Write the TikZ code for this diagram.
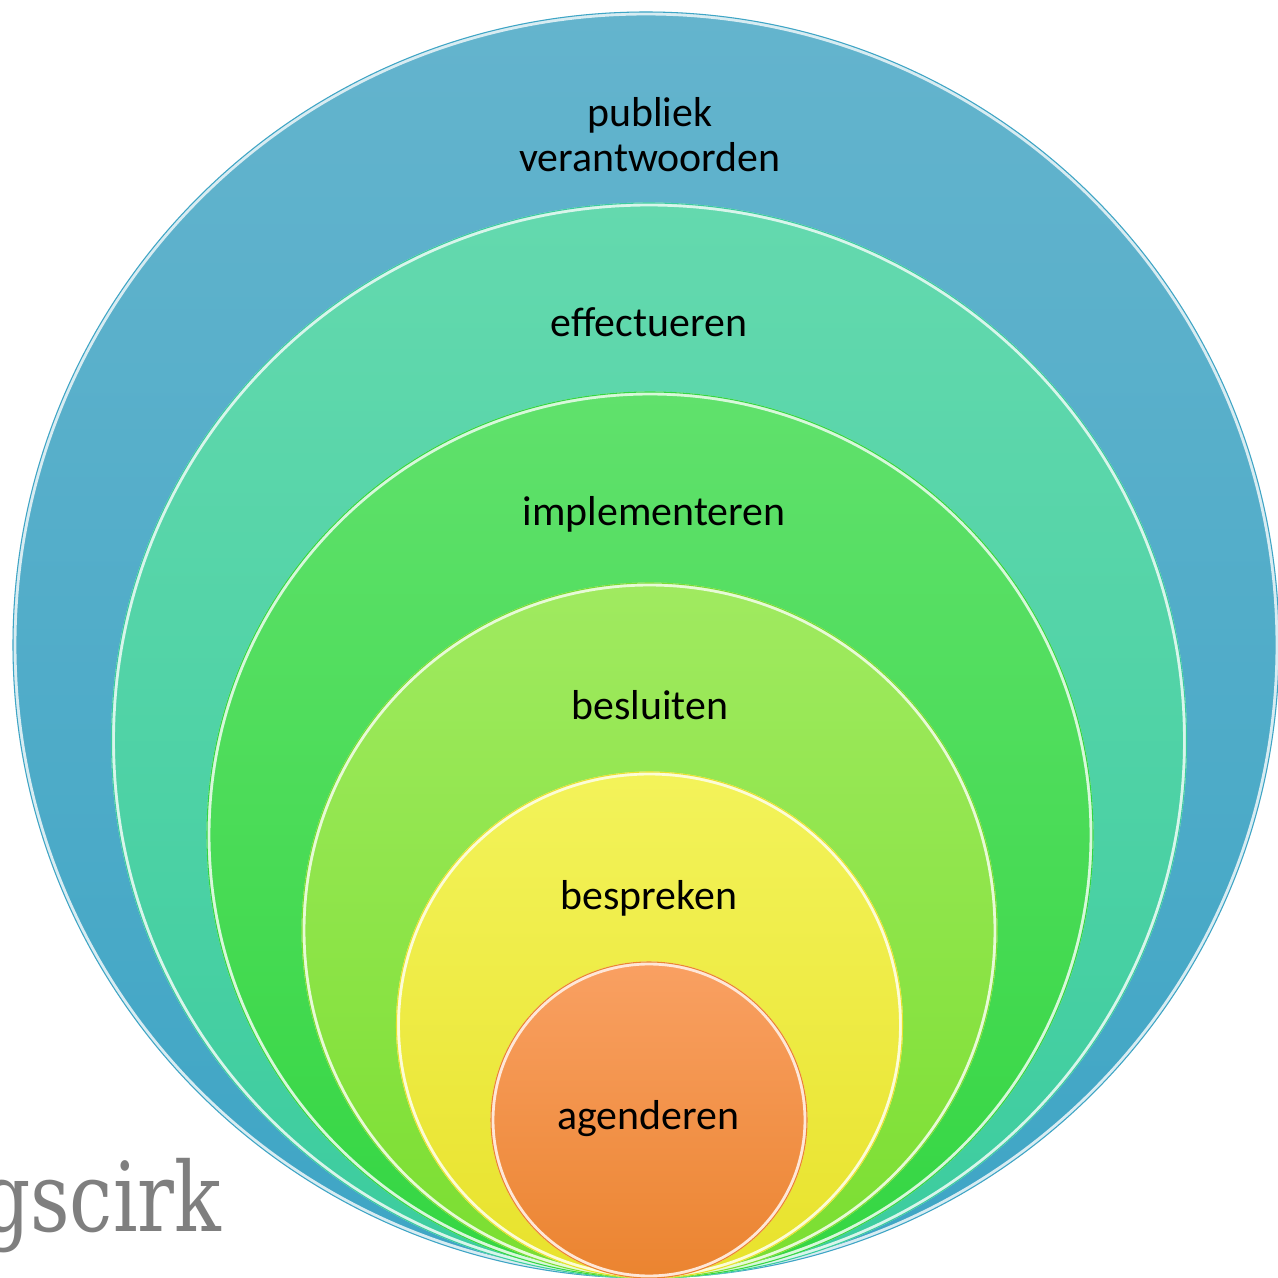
\documentclass[tikz,border=0pt]{standalone}
\usepackage{fontspec}
\setmainfont{Carlito}
\newfontfamily\slabfont[FakeStretch=0.8]{DejaVu Serif}
\definecolor{c1t}{HTML}{64B4CD}\definecolor{c1b}{HTML}{3EA5C5}
\definecolor{c2t}{HTML}{64D9AE}\definecolor{c2b}{HTML}{3BCC9E}
\definecolor{c3t}{HTML}{60E16C}\definecolor{c3b}{HTML}{34D642}
\definecolor{c4t}{HTML}{A0EA60}\definecolor{c4b}{HTML}{7ADE30}
\definecolor{c5t}{HTML}{F3F35A}\definecolor{c5b}{HTML}{E8E22C}
\definecolor{c6t}{HTML}{F9A062}\definecolor{c6b}{HTML}{EB8430}
\definecolor{txtgray}{HTML}{7F7F7F}
\tikzset{
  ring/.style 2 args={top color=#1, bottom color=#2, draw=#1!25!white, line width=1.1pt},
  edge/.style={draw=#1, line width=0.3pt},
  lbl/.style={font=\fontsize{11.9pt}{12.8pt}\selectfont, text=black, inner sep=0pt, anchor=base, align=center}
}
\begin{document}
\begin{tikzpicture}[x=0.01cm,y=0.01cm]
\useasboundingbox (0,0) rectangle (1278,1278);
\clip (0,0) rectangle (1278,1278);
\fill[white] (0,0) rectangle (1278,1278);
% gray background text (cut at the left edge, as in the reference)
\node[anchor=base east, inner sep=0pt, text=txtgray, font=\slabfont\fontsize{27.4pt}{30pt}\selectfont] (bg) at (222,46) {gscirk};
% nested circles
\shade[ring={c1t}{c1b}] (646,633) circle [radius=631.5];
\draw[edge=c1b] (646,633) circle [radius=633];
\shade[ring={c2t}{c2b}] (649,537.5) circle [radius=536];
\draw[edge=c2b] (649,537.5) circle [radius=537.5];
\shade[ring={c3t}{c3b}] (650,443) circle [radius=441.5];
\draw[edge=c3b] (650,443) circle [radius=443];
\shade[ring={c4t}{c4b}] (649.5,347.5) circle [radius=346];
\draw[edge=c4b] (649.5,347.5) circle [radius=347.5];
\shade[ring={c5t}{c5b}] (649.5,253) circle [radius=251.5];
\draw[edge=c5b] (649.5,253) circle [radius=253];
\shade[ring={c6t}{c6b}] (649,158) circle [radius=156.5];
\draw[edge=c6b] (649,158) circle [radius=158];
% labels
\node[lbl] (l1) at (650,1106) {publiek\\verantwoorden};
\node[lbl] (l2) at (649,941) {effectueren};
\node[lbl] (l3) at (654,752) {implementeren};
\node[lbl] (l4) at (650,558) {besluiten};
\node[lbl] (l5) at (649,368) {bespreken};
\node[lbl] (l6) at (648,148) {agenderen};
\end{tikzpicture}
\end{document}
